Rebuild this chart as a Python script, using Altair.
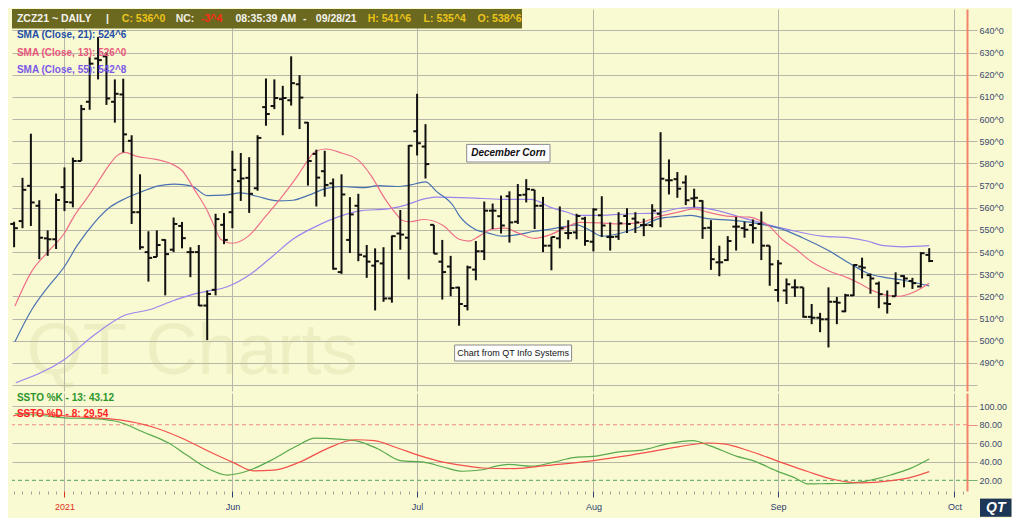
import altair as alt
import pandas as pd

# ---------------- data ----------------
day_index = list(range(-6, 104))   # trading-day index, 0 = 3 May 2021
open_px = [552.7, 554.0, 569.9, 560.9, 546.2, 545.8, 569.3, 562.4, 581.1, 607.8,
           627.3, 628.3, 607.8, 611.1, 590.2, 558.0, 540.0, 537.8, 545.5, 541.1,
           551.8, 540.0, 540.0, 515.9, 523.0, 552.3, 558.0, 572.0, 573.5, 568.8,
           605.4, 605.9, 609.0, 608.5, 615.7, 598.4, 584.3, 576.5, 571.0, 531.0,
           545.5, 560.9, 538.1, 533.9, 534.9, 519.1, 548.4, 546.5, 594.5, 587.6,
           552.3, 535.7, 533.5, 524.0, 515.7, 532.1, 540.4, 558.7, 556.2, 565.2,
           553.7, 565.9, 568.1, 560.9, 542.9, 546.2, 548.6, 548.9, 555.1, 544.7,
           556.6, 546.8, 547.0, 556.3, 555.1, 552.2, 552.2, 557.3, 572.4, 572.9,
           571.4, 564.2, 563.1, 551.0, 535.4, 536.4, 551.5, 550.8, 552.2, 552.7,
           542.9, 522.9, 522.7, 524.1, 524.1, 510.8, 510.4, 509.7, 517.6, 513.3,
           520.5, 533.5, 529.6, 525.8, 516.9, 520.1, 529.2, 527.0, 524.5, 538.75]
high_px = [553.7, 573.5, 593.4, 563.4, 549.8, 566.4, 578.2, 582.6, 606.4, 628.0,
           637.0, 630.2, 617.9, 618.2, 592.7, 575.1, 549.4, 549.8, 545.8, 555.6,
           553.6, 542.2, 543.2, 522.7, 557.3, 557.6, 585.7, 584.7, 582.8, 592.7,
           618.3, 617.9, 615.0, 628.3, 619.8, 598.7, 586.2, 585.7, 573.2, 575.1,
           564.8, 566.3, 543.2, 541.7, 542.2, 547.5, 559.0, 588.3, 611.4, 597.7,
           552.3, 545.5, 538.3, 524.4, 533.9, 545.0, 562.8, 561.9, 565.5, 567.4,
           570.7, 572.9, 568.1, 564.9, 546.9, 560.6, 554.4, 557.3, 555.9, 559.8,
           565.2, 553.4, 558.0, 559.8, 558.0, 555.1, 561.6, 594.1, 581.8, 576.1,
           574.6, 568.6, 563.4, 554.4, 542.9, 547.2, 555.9, 553.7, 554.7, 558.3,
           542.9, 536.4, 528.1, 527.7, 524.1, 516.6, 512.6, 524.1, 519.8, 521.2,
           534.5, 537.5, 530.3, 526.7, 522.7, 530.9, 529.6, 528.4, 540.0, 541.75]
low_px = [542.2, 550.8, 551.8, 536.8, 538.3, 541.4, 558.5, 560.2, 581.1, 604.2,
          617.9, 606.4, 598.4, 585.0, 552.7, 541.1, 526.7, 537.8, 520.5, 540.0,
          541.7, 528.7, 515.7, 500.3, 520.5, 543.6, 550.8, 563.1, 557.7, 567.7,
          597.0, 604.5, 592.7, 606.1, 595.5, 570.0, 560.6, 565.0, 532.1, 530.2,
          539.6, 535.9, 528.4, 513.7, 517.6, 517.2, 541.1, 527.7, 583.6, 573.2,
          539.3, 518.6, 520.1, 506.8, 513.7, 527.3, 536.4, 550.4, 548.4, 544.3,
          552.7, 562.4, 550.4, 540.0, 531.8, 541.7, 545.8, 545.8, 542.9, 540.3,
          546.8, 540.7, 545.5, 548.6, 548.6, 547.2, 551.2, 551.2, 566.0, 564.5,
          561.2, 560.2, 546.0, 532.0, 529.1, 536.0, 540.7, 546.5, 543.9, 536.4,
          524.8, 517.6, 516.6, 519.8, 510.4, 507.5, 503.9, 497.0, 507.5, 512.9,
          520.2, 528.1, 521.2, 514.7, 512.3, 520.1, 524.1, 523.4, 524.1, 535.5]
close_px = [550.8, 568.1, 562.4, 546.5, 545.8, 563.5, 562.6, 581.1, 604.5, 625.0,
            626.6, 609.3, 611.4, 593.1, 558.0, 542.2, 537.4, 543.2, 539.1, 552.7,
            546.3, 540.0, 515.9, 521.1, 554.9, 545.5, 577.1, 573.2, 566.3, 591.5,
            602.3, 609.5, 609.5, 616.2, 609.7, 581.1, 573.6, 570.3, 532.5, 566.0,
            557.0, 538.8, 535.7, 535.9, 519.1, 547.2, 547.9, 588.0, 589.1, 579.7,
            539.3, 531.0, 523.8, 516.6, 533.1, 540.4, 558.7, 558.7, 552.0, 553.4,
            565.7, 568.4, 560.9, 542.9, 546.8, 550.8, 548.6, 556.3, 545.0, 559.2,
            552.0, 546.8, 553.0, 552.7, 553.4, 552.2, 558.7, 573.1, 572.4, 568.6,
            563.4, 564.5, 550.8, 536.8, 535.4, 545.0, 551.5, 550.1, 550.8, 542.9,
            534.5, 534.9, 525.5, 524.1, 510.8, 510.4, 509.7, 517.6, 517.2, 520.5,
            534.2, 533.0, 528.1, 521.0, 516.6, 526.0, 528.1, 526.0, 539.5, 536.0]

sma21_day = [-5.9, -3.9, -2.0, 0.0, 1.5, 3.5, 5.4, 7.2, 9.3, 11.2, 13.1, 15.1, 17.0, 19.0,
             21.0, 22.9, 25.4, 27.2, 29.1, 31.1, 33.0, 35.8, 37.3, 39.6, 41.2, 43.0, 44.3,
             46.3, 47.0, 49.0, 50.5, 52.1, 54.0, 56.0, 57.9, 59.5, 61.0, 62.6, 64.0, 66.1,
             68.4, 70.8, 73.1, 74.6, 76.6, 79.3, 82.4, 85.1, 87.9, 91.0, 93.7, 95.6, 98.0,
             99.9, 103.0]
sma21_val = [499.6, 514.0, 524.1, 533.5, 542.9, 553.0, 560.2, 564.1, 567.4, 569.9, 570.7,
             569.9, 565.5, 565.7, 566.7, 565.2, 563.1, 563.4, 565.7, 568.6, 569.6, 569.1,
             570.0, 569.6, 570.3, 571.7, 567.4, 560.9, 556.6, 550.1, 548.6, 547.2, 547.9,
             549.4, 550.4, 551.5, 552.3, 549.8, 547.2, 548.4, 551.2, 555.1, 556.1, 556.6,
             555.1, 554.4, 553.0, 550.8, 546.5, 540.7, 534.5, 530.6, 528.4, 527.3, 524.75]

sma13_day = [-5.9, -3.9, -2.0, 0.0, 1.1, 2.7, 4.0, 5.4, 6.2, 7.2, 8.5, 10.9, 12.8, 14.0,
             15.5, 17.1, 17.9, 18.6, 20.0, 21.9, 23.9, 25.8, 27.8, 28.8, 29.9, 31.1, 33.0,
             35.0, 36.5, 38.1, 39.5, 40.2, 41.2, 42.8, 45.1, 47.0, 48.2, 49.4, 50.9, 52.5,
             54.0, 56.0, 57.9, 59.9, 61.4, 63.8, 66.1, 68.4, 70.8, 73.1, 75.0, 76.6, 79.3,
             81.6, 82.8, 84.0, 85.5, 87.1, 89.0, 91.0, 93.3, 94.9, 96.4, 98.0, 99.5, 100.7,
             101.9, 103.0]
sma13_val = [515.7, 531.3, 540.0, 548.6, 555.9, 564.5, 571.7, 579.7, 583.3, 585.0, 583.3,
             581.8, 579.7, 576.8, 568.1, 558.0, 551.2, 545.8, 544.0, 547.2, 555.9, 564.5,
             574.6, 580.4, 585.4, 586.5, 584.7, 581.5, 574.6, 564.5, 557.3, 554.4, 553.7,
             554.7, 552.0, 545.8, 545.0, 547.2, 550.4, 550.8, 548.7, 546.2, 547.9, 551.5,
             553.4, 553.2, 552.7, 553.2, 556.1, 558.0, 559.5, 558.0, 556.1, 555.8, 554.4,
             551.5, 545.7, 541.4, 535.6, 531.6, 528.4, 525.5, 522.4, 520.5, 520.1, 521.2,
             523.4, 526.0]

sma55_day = [-5.8, 0.0, 3.5, 7.1, 10.1, 13.1, 15.5, 17.0, 19.4, 22.1, 24.9, 27.2, 29.9,
             32.6, 35.4, 38.5, 40.4, 43.0, 44.3, 48.2, 52.1, 55.6, 57.9, 59.9, 61.0, 63.8,
             67.6, 70.4, 73.5, 75.4, 77.8, 80.5, 84.0, 87.1, 90.2, 93.3, 95.6, 97.6, 99.9,
             103.0]
sma55_val = [481.1, 491.6, 502.5, 511.4, 514.0, 518.3, 521.2, 522.4, 524.4, 529.9, 538.5,
             545.8, 551.5, 555.9, 558.7, 559.5, 561.0, 564.1, 564.8, 564.5, 563.8, 563.8,
             560.2, 558.0, 556.6, 556.6, 557.3, 557.6, 559.9, 560.2, 558.7, 555.8, 552.2,
             549.4, 547.2, 546.5, 545.0, 542.9, 542.4, 542.9]

stoch_k_day = [-5.9, -2.4, 0.0, 3.5, 6.6, 9.3, 12.4, 14.7, 17.1, 19.4, 21.7, 24.9, 27.6,
               29.9, 32.6, 35.0, 37.3, 40.0, 42.8, 45.1, 47.4, 49.8, 51.3, 52.9, 55.6, 58.3,
               60.6, 63.0, 66.1, 68.8, 71.9, 74.8, 77.0, 80.1, 82.0, 84.8, 87.1, 88.6, 91.0,
               93.3, 95.3, 98.4, 100.7, 103.0]
stoch_k_val = [92.1, 89.7, 87.5, 86.5, 82.7, 72.4, 60.3, 46.5, 32.7, 25.8, 29.9, 43.1, 56.9,
               65.5, 64.5, 62.1, 54.2, 41.4, 39.7, 34.5, 29.9, 31.5, 35.1, 37.2, 35.4, 39.7,
               44.5, 45.9, 50.7, 52.7, 59.6, 62.8, 56.9, 45.9, 41.4, 30.3, 22.4, 16.2, 16.6,
               16.9, 19.0, 25.8, 32.7, 43.12]
stoch_d_day = [-6.1, -3.9, -2.4, 1.5, 6.6, 10.5, 14.0, 17.1, 20.2, 22.5, 24.9, 28.0, 31.1,
               34.6, 36.9, 39.6, 42.4, 45.1, 48.2, 49.8, 53.6, 57.5, 63.0, 69.2, 73.1, 76.6,
               78.5, 81.6, 84.8, 88.6, 91.8, 94.9, 98.4, 100.7, 103.0]
stoch_d_val = [89.5, 93.0, 91.4, 88.6, 85.2, 77.6, 65.5, 51.7, 38.9, 30.3, 31.0, 39.7, 53.5,
               63.8, 62.8, 55.2, 46.5, 39.7, 35.2, 33.4, 32.8, 36.2, 41.4, 50.0, 56.2, 60.3,
               59.3, 51.7, 41.4, 29.3, 20.7, 17.3, 19.7, 23.1, 29.54]

month_day = [0, 20, 42, 63, 85, 106]
month_label = ["2021", "Jun", "Jul", "Aug", "Sep", "Oct"]
price_ticks = list(range(480, 641, 10))
stoch_ticks = [20, 40, 60, 80, 100]
overbought_level = [80]
oversold_level = [20]

# ---------------- layout / style ----------------
W, HP, HS = 955, 382, 98
FONT = "Liberation Sans"
GRID = "#b6b6a9"
BG = "#fafad2"
AXIS_TXT = "#3b4a6e"
RED_EDGE = "#f5836b"

xs = alt.Scale(domain=[-6.25, 107.5], nice=False, zero=False)
ps = alt.Scale(domain=[477.36, 649.65], nice=False, zero=False)
ss = alt.Scale(domain=[8.6, 114.2], nice=False, zero=False)

major_test = "indexof(" + str(month_day) + ", datum.value) >= 0"
lab_expr = " : ".join(f"datum.value == {d} ? '{l}'" for d, l in zip(month_day, month_label)) + " : ''"

x_axis_price = alt.Axis(values=month_day, grid=True, gridColor=GRID, gridWidth=1,
                        labels=False, ticks=False, domain=False, title=None)
x_axis_stoch = alt.Axis(
    values=list(range(-6, 108)), labelExpr=lab_expr, title=None, domain=False, grid=True,
    gridColor={"condition": {"test": major_test, "value": GRID}, "value": "transparent"},
    gridWidth=1,
    tickSize={"condition": {"test": major_test, "value": 6}, "value": 3},
    tickColor={"condition": [{"test": "datum.value == 0", "value": "#e0301c"},
                             {"test": major_test, "value": "#2c3e6e"}], "value": "#a0a0a0"},
    tickWidth=1,
    labelColor={"condition": {"test": "datum.value == 0", "value": "#e0301c"}, "value": "#2c3e6e"},
    labelFont="Liberation Sans Narrow, Liberation Sans", labelFontSize=9, labelPadding=5,
    labelOverlap=False, labelFlush=False)
y_axis_price = alt.Axis(
    orient="right", values=price_ticks, title=None,
    labelExpr="datum.value >= 490 ? format(datum.value, 'd') + '^0' : ''",
    grid=True, gridColor=GRID, gridWidth=1, tickColor=GRID, tickSize=10, tickWidth=1,
    domainColor=RED_EDGE, domainWidth=2, labelColor=AXIS_TXT, labelFont=FONT,
    labelFontSize=9, labelPadding=2, labelOverlap=False)
y_axis_stoch = alt.Axis(
    orient="right", values=stoch_ticks, format=".2f", title=None, grid=True,
    gridColor={"condition": {"test": "datum.value == 80 || datum.value == 20", "value": "transparent"},
               "value": GRID},
    gridWidth=1,
    tickColor={"condition": [{"test": "datum.value == 80", "value": "#f08a84"},
                             {"test": "datum.value == 20", "value": "#72b472"}], "value": GRID},
    tickSize=10, tickWidth=1, domainColor=RED_EDGE, domainWidth=2, labelColor=AXIS_TXT,
    labelFont=FONT, labelFontSize=9, labelPadding=2, labelOverlap=False)

one = pd.DataFrame({"k": [0]})


def label(txt, x, y, color, size=10, weight="bold", style="normal", align="left",
          font=FONT, opacity=1.0, baseline="middle"):
    return alt.Chart(one).mark_text(
        text=txt, align=align, baseline=baseline, font=font, fontSize=size,
        fontWeight=weight, fontStyle=style, color=color, opacity=opacity
    ).encode(x=alt.value(x), y=alt.value(y))


def box(x1, x2, y1, y2, fill, stroke="", sw=0):
    kw = {"fill": fill}
    if stroke:
        kw["stroke"] = stroke
        kw["strokeWidth"] = sw
    return alt.Chart(one).mark_rect(**kw).encode(
        x=alt.value(x1), x2=alt.value(x2), y=alt.value(y1), y2=alt.value(y2))


def series_line(days, vals, color, yscale, xaxis, yaxis):
    df = pd.DataFrame({"day": days, "value": vals})
    return alt.Chart(df).mark_line(color=color, strokeWidth=1.2, interpolate="monotone").encode(
        x=alt.X("day:Q", scale=xs, axis=xaxis),
        y=alt.Y("value:Q", scale=yscale, axis=yaxis))


# ---------------- price panel ----------------
ohlc = pd.DataFrame({"day": day_index, "open": open_px, "high": high_px,
                     "low": low_px, "close": close_px})

sma_lines = [
    series_line(sma55_day, sma55_val, "#9c84ec", ps, x_axis_price, y_axis_price),
    series_line(sma21_day, sma21_val, "#4872b2", ps, x_axis_price, y_axis_price),
    series_line(sma13_day, sma13_val, "#ee6f8a", ps, x_axis_price, y_axis_price),
]

bar_col = "#111111"
hl = alt.Chart(ohlc).mark_rule(color=bar_col, strokeWidth=2).encode(
    x=alt.X("day:Q", scale=xs, axis=x_axis_price),
    y=alt.Y("low:Q", scale=ps, axis=y_axis_price), y2="high:Q")
op = alt.Chart(ohlc).transform_calculate(d0="datum.day - 0.45").mark_rule(
    color=bar_col, strokeWidth=2).encode(
    x=alt.X("d0:Q", scale=xs, axis=x_axis_price), x2="day:Q",
    y=alt.Y("open:Q", scale=ps, axis=y_axis_price))
cl = alt.Chart(ohlc).transform_calculate(d1="datum.day + 0.45").mark_rule(
    color=bar_col, strokeWidth=2).encode(
    x=alt.X("day:Q", scale=xs, axis=x_axis_price), x2="d1:Q",
    y=alt.Y("close:Q", scale=ps, axis=y_axis_price))

watermark = label("QT Charts", 14.7, 364.8, "#c8c890", size=72, weight="normal",
                  opacity=0.22, baseline="alphabetic")

hdr_y = 9.8
header = [
    box(0, 510, 0, 19.5, "#6b6820"),
    label("ZCZ21 ~ DAILY", 4.9, hdr_y, "#f4f4ee", size=10.5),
    label("|", 94, hdr_y, "#f4f4ee", size=10.5),
    label("C: 536^0", 109.8, hdr_y, "#ecc51c", size=10.5),
    label("NC:", 163.7, hdr_y, "#f0eee0", size=10.5),
    label("-3^4", 189, hdr_y, "#ff2c14", size=10.5),
    label("08:35:39 AM", 223.4, hdr_y, "#f4f4ee", size=10.5),
    label("-", 291, hdr_y, "#f4f4ee", size=10.5),
    label("09/28/21", 303.8, hdr_y, "#f4f4ee", size=10.5),
    label("H: 541^6", 355.7, hdr_y, "#ecc51c", size=10.5),
    label("L: 535^4", 411.6, hdr_y, "#ecc51c", size=10.5),
    label("O: 538^6", 465.5, hdr_y, "#ecc51c", size=10.5),
]
legend_txt = [
    label("SMA (Close, 21): 524^6", 4.9, 25.9, "#1f4ea6"),
    label("SMA (Close, 13): 526^0", 4.9, 44.2, "#e8587e"),
    label("SMA (Close, 55): 542^8", 4.9, 61.4, "#7a58e8"),
]
notes = [
    box(454.7, 538.0, 135.4, 153.0, "#ffffff", "#8a8a8a", 1),
    label("December Corn", 496.4, 144.3, "#111111", size=10, style="italic", align="center"),
    box(442.6, 559.6, 336.0, 352.0, "#ffffff", "#8a8a8a", 1),
    label("Chart from QT Info Systems", 501.1, 344.2, "#111111", size=9, weight="normal",
          align="center"),
]

price = alt.layer(watermark, *sma_lines, hl, op, cl, *header, *legend_txt, *notes).properties(
    width=W, height=HP)

# ---------------- stochastic panel ----------------
ob = alt.Chart(pd.DataFrame({"level": overbought_level})).mark_rule(
    strokeDash=[4, 3], strokeWidth=1.2, color="#f08a84").encode(
    y=alt.Y("level:Q", scale=ss, axis=y_axis_stoch))
os_ = alt.Chart(pd.DataFrame({"level": oversold_level})).mark_rule(
    strokeDash=[4, 3], strokeWidth=1.2, color="#72b472").encode(
    y=alt.Y("level:Q", scale=ss, axis=y_axis_stoch))

k_line = series_line(stoch_k_day, stoch_k_val, "#58aa4c", ss, x_axis_stoch, y_axis_stoch)
d_line = series_line(stoch_d_day, stoch_d_val, "#f2504a", ss, x_axis_stoch, y_axis_stoch)

st_txt = [
    label("SSTO %K - 13: 43.12", 4.9, 4.8, "#2a962a"),
    label("SSTO %D - 8: 29.54", 4.9, 21.1, "#ff2424"),
]
logo = [
    box(968, 999.5, 105.6, 123.8, "#1d3556"),
    label("QT", 983.8, 115.2, "#ffffff", size=14, style="italic", align="center"),
]

stoch = alt.layer(ob, os_, k_line, d_line, *st_txt, *logo).properties(width=W, height=HS)

chart = alt.vconcat(price, stoch, spacing=0).properties(
    background=BG, padding=0
).configure_view(stroke="transparent").configure_concat(spacing=0)

chart.save("out.html", embed_options={"renderer": "svg", "actions": False})
